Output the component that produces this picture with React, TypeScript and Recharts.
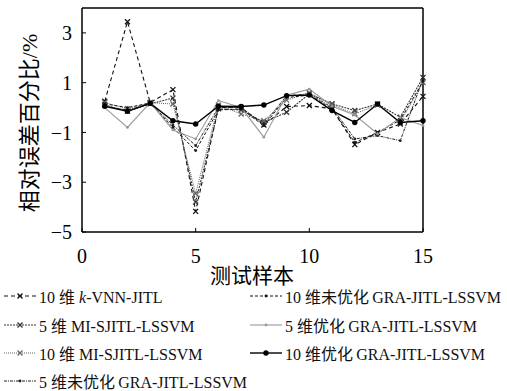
import React from 'react';
import { LineChart, Line, XAxis, YAxis, ReferenceLine } from 'recharts';

const samples = [1, 2, 3, 4, 5, 6, 7, 8, 9, 10, 11, 12, 13, 14, 15];
const kvnn10 = [0.25, 3.45, 0.2, 0.72, -4.17, 0.0, 0.0, -0.7, 0.04, 0.08, -0.05, -1.49, -1.0, -0.66, 0.45];
const miS5 = [0.1, -0.15, 0.15, 0.38, -3.8, -0.05, -0.1, -0.6, -0.19, 0.55, 0.15, -0.12, 0.14, -0.39, 1.21];
const miS10 = [0.2, -0.05, 0.2, 0.14, -3.45, 0.1, -0.26, -0.53, 0.3, 0.6, 0.1, -0.25, 0.1, -0.6, 1.01];
const graRaw5 = [0.05, -0.1, 0.15, -0.7, -1.53, 0.0, 0.0, -0.66, 0.48, 0.55, 0.0, -1.26, -1.13, -1.33, 1.15];
const graRaw10 = [0.15, 0.0, 0.18, -0.8, -1.73, -0.1, -0.05, -0.73, 0.4, 0.5, -0.05, -1.4, -1.0, -0.5, 1.05];
const graOpt5 = [0.0, -0.8, 0.2, -0.9, -1.26, 0.28, 0.0, -1.19, 0.5, 0.74, 0.05, -0.3, -1.05, -0.4, -0.72];
const graOpt10 = [0.05, -0.15, 0.17, -0.53, -0.66, 0.05, 0.04, 0.1, 0.48, 0.5, -0.12, -0.6, 0.14, -0.6, -0.53];

const xTicks = [0, 5, 10, 15];
const yTicks = [-5, -3, -1, 1, 3];

const FONT = '"Liberation Serif", "Noto Sans CJK SC", serif';

const data = samples.map((s, i) => ({
  x: s,
  kvnn10: kvnn10[i],
  miS5: miS5[i],
  miS10: miS10[i],
  graRaw5: graRaw5[i],
  graRaw10: graRaw10[i],
  graOpt5: graOpt5[i],
  graOpt10: graOpt10[i],
}));

type Marker = 'cross' | 'dot' | 'circle';

const series: { key: string; stroke: string; dash?: string; width: number; marker: Marker }[] = [
  { key: 'kvnn10', stroke: '#111', dash: '4 3', width: 1.1, marker: 'cross' },
  { key: 'miS5', stroke: '#333', dash: '2 1', width: 1.1, marker: 'cross' },
  { key: 'miS10', stroke: '#666', dash: '1 1', width: 1, marker: 'cross' },
  { key: 'graRaw5', stroke: '#222', dash: '3 1 1 1', width: 1, marker: 'dot' },
  { key: 'graRaw10', stroke: '#111', dash: '3 2', width: 1, marker: 'dot' },
  { key: 'graOpt5', stroke: '#999', width: 1.1, marker: 'dot' },
  { key: 'graOpt10', stroke: '#000', width: 1.4, marker: 'circle' },
];

const drawMarker = (m: Marker, cx: number, cy: number, stroke: string, key?: any) => {
  if (m === 'cross') {
    const r = 2.5;
    return (
      <path key={key} d={`M${cx - r},${cy - r}L${cx + r},${cy + r}M${cx - r},${cy + r}L${cx + r},${cy - r}`}
        stroke={stroke} strokeWidth={1.3} fill="none" />
    );
  }
  if (m === 'circle') return <circle key={key} cx={cx} cy={cy} r={2.7} fill="#000" stroke="none" />;
  return <circle key={key} cx={cx} cy={cy} r={1.4} fill={stroke} stroke="none" />;
};

const legendRows: [string, React.ReactNode][][] = [
  [['kvnn10', <>10 维 <i>k</i>-VNN-JITL</>], ['graRaw10', '10 维未优化\u2009GRA-JITL-LSSVM']],
  [['miS5', '5 维 MI-SJITL-LSSVM'], ['graOpt5', '5 维优化\u2009GRA-JITL-LSSVM']],
  [['miS10', '10 维 MI-SJITL-LSSVM'], ['graOpt10', '10 维优化\u2009GRA-JITL-LSSVM']],
  [['graRaw5', '5 维未优化\u2009GRA-JITL-LSSVM']],
];
const rowY = [296, 325, 353, 381];

const Sample = ({ k }: { k: string }) => {
  const s = series.find((d) => d.key === k)!;
  return (
    <svg width={32} height={10} style={{ display: 'block' }}>
      <line x1={0} y1={5} x2={32} y2={5} stroke={s.stroke} strokeWidth={s.width} strokeDasharray={s.dash} />
      {drawMarker(s.marker, 16, 5, s.stroke)}
    </svg>
  );
};

const fmt = (v: number) => (v < 0 ? `\u2212${Math.abs(v)}` : `${v}`);

export default function App() {
  return (
    <div style={{ position: 'absolute', left: 0, top: 0, width: 507, height: 391, background: '#fff', fontFamily: FONT }}>
      <LineChart width={507} height={280} data={data} margin={{ top: 8, right: 84, left: 0, bottom: 0 }}>
        <XAxis type="number" dataKey="x" domain={[0, 15]} ticks={xTicks} height={48}
          axisLine={{ stroke: '#000', strokeWidth: 1.5 }} tickLine={{ stroke: '#000' }}
          tickSize={-4} tickMargin={21}
          tick={{ fill: '#000', fontSize: 20, fontFamily: FONT }} />
        <YAxis type="number" domain={[-5, 4]} ticks={yTicks} width={82}
          axisLine={{ stroke: '#000', strokeWidth: 1.5 }} tickLine={{ stroke: '#000' }}
          tickSize={-4} tickMargin={14} tickFormatter={fmt}
          tick={{ fill: '#000', fontSize: 20, fontFamily: FONT }} />
        <ReferenceLine y={4} stroke="#000" strokeWidth={1.5} />
        <ReferenceLine x={15} stroke="#000" strokeWidth={1.5} />
        {series.map((s) => (
          <Line key={s.key} dataKey={s.key} type="linear" stroke={s.stroke} strokeWidth={s.width}
            strokeDasharray={s.dash} isAnimationActive={false} activeDot={false}
            dot={(p: any) => drawMarker(s.marker, p.cx, p.cy, s.stroke, `${s.key}-${p.index}`)} />
        ))}
      </LineChart>
      <div style={{ position: 'absolute', left: 210, top: 259, fontSize: 21, whiteSpace: 'nowrap' }}>
        测试样本
      </div>
      <div style={{ position: 'absolute', left: 27, top: 123, transform: 'translate(-50%, -50%) rotate(-90deg)', whiteSpace: 'nowrap', fontSize: 22 }}>
        相对误差百分比/%
      </div>
      {legendRows.map((row, r) =>
        row.map(([k, label], c) => (
          <div key={`${r}-${c}`} style={{ position: 'absolute', left: c === 0 ? 4 : 250, top: rowY[r] - 10, height: 20,
            display: 'flex', alignItems: 'center', fontSize: 16, whiteSpace: 'nowrap', color: '#111' }}>
            <Sample k={k} />
            <span style={{ marginLeft: 3 }}>{label}</span>
          </div>
        ))
      )}
    </div>
  );
}
